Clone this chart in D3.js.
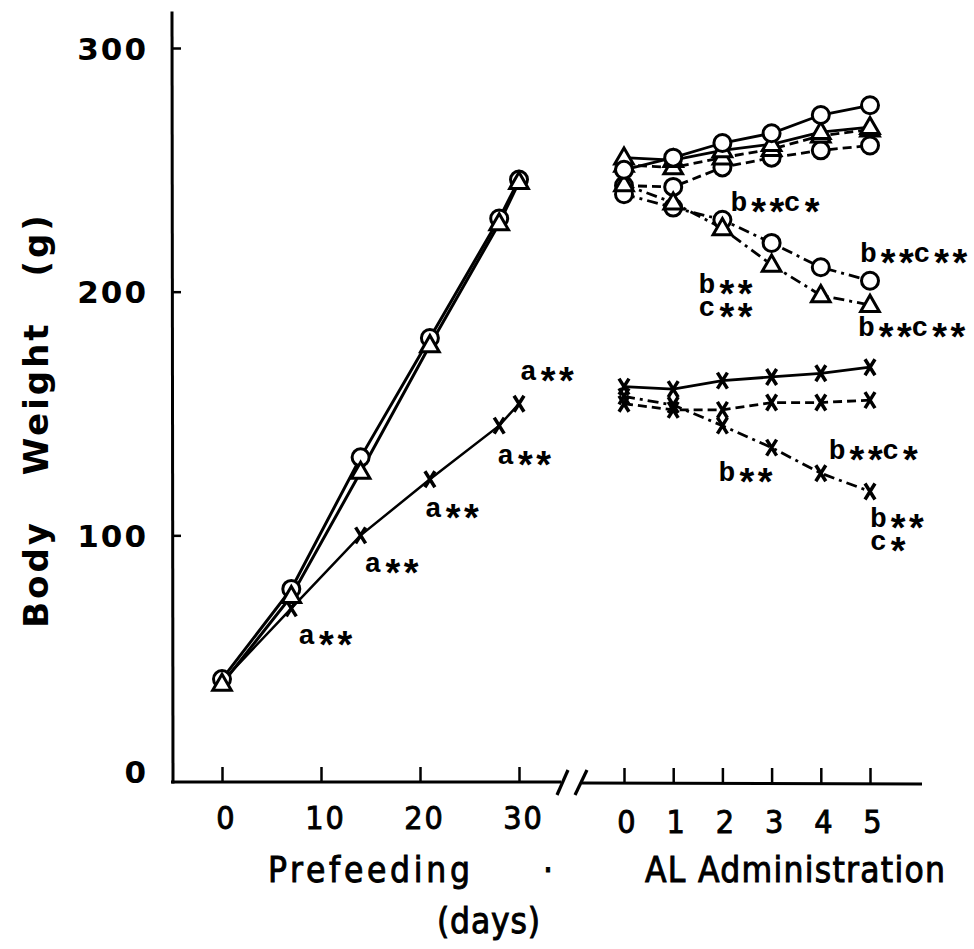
<!DOCTYPE html>
<html>
<head>
<meta charset="utf-8">
<script src="https://cdn.jsdelivr.net/npm/d3@7/dist/d3.min.js"></script>
<style>
  html, body { margin: 0; padding: 0; background: #fff; }
  svg { display: block; }
  .ytick text { font-family: "DejaVu Sans", sans-serif; font-weight: bold; font-size: 31px; letter-spacing: 2px; }
  .xtick text { font-family: "DejaVu Sans Condensed", "DejaVu Sans", sans-serif; font-stretch: condensed; font-size: 32px; letter-spacing: 2px; stroke: #000; stroke-width: 0.9px; }
  .xlabel { font-family: "DejaVu Sans Condensed", "DejaVu Sans", sans-serif; font-stretch: condensed; font-size: 35px; stroke: #000; stroke-width: 0.9px; }
  .ylabel { font-family: "DejaVu Sans", sans-serif; font-weight: bold; font-size: 34px; letter-spacing: 3px; word-spacing: 30px; }
  .ann { font-family: "Liberation Mono", "DejaVu Sans Mono", monospace; font-weight: bold; font-size: 28px; }
</style>
</head>
<body>
<svg id="chart" width="974" height="949"></svg>
<script>
// Prefeeding period (days 0-30), body weight in g
const prefeedDays = [0, 7, 14, 21, 28, 30];
const prefeedCircle = [41, 78, 132, 181, 230, 246];
const prefeedTriangle = [39, 75, 126, 178, 228, 245];
const prefeedCross = [40, 70, 100, 123, 145, 154];

// AL administration period (days 0-5)
const alDays = [0, 1, 2, 3, 4, 5];
const circleSolid = [250, 255, 261, 265, 272.5, 276.5];
const circleDashed = [243.5, 243, 251, 255, 258, 260];
const circleDashDot = [240, 234.5, 229.5, 220, 210, 204.5];
const triangleSolid = [255, 254, 258, 260.5, 265.5, 267.5];
const triangleDashed = [252, 251, 255, 258.5, 264, 266.5];
const triangleDashDot = [244, 236.5, 226, 211, 198.5, 194.5];
const crossSolid = [161, 160, 163.5, 165, 166.5, 169];
const crossDashed = [154, 151.5, 151.5, 154.5, 154.5, 155.5];
const crossDashDot = [157, 153.5, 145, 136, 125.5, 118];

// Tick labels
const yTicks = [0, 100, 200, 300];
const prefeedTicks = [0, 10, 20, 30];
const alTicks = [0, 1, 2, 3, 4, 5];

// Significance notes
const prefeedNoteText = ["a**", "a**", "a**", "a**", "a**"];
const prefeedNoteDay = [7, 14, 21, 28, 30];
const alNoteText = ["b**c*", "b**c**", "b**\nc**", "b**c**", "b**c*", "b**", "b**\nc*"];
const alNoteSeries = ["circleDashDot", "circleDashDot", "triangleDashDot", "triangleDashDot", "crossDashDot", "crossDashDot", "crossDashDot"];
const alNoteDay = [2, 5, 3, 5, 4, 3, 5];

const svg = d3.select("#chart");

const y = d3.scaleLinear().domain([0, 300]).range([779, 48]);
const xL = d3.scaleLinear().domain([0, 30]).range([222, 519]);
const xR = d3.scaleLinear().domain([0, 5]).range([624, 870]);

const AXIS_Y = 782;

// ---- axes ----
const yAxis = svg.append("g").attr("class", "ytick").attr("transform", "translate(172,0)")
  .call(d3.axisLeft(y).tickValues(yTicks).tickSize(-9).tickPadding(24).tickFormat(d3.format("d")));
yAxis.select(".domain").remove();
yAxis.selectAll("line").attr("stroke", "#000").attr("stroke-width", 2.5);
yAxis.selectAll("text").attr("fill", "#000").attr("dy", "0.36em");
yAxis.selectAll(".tick").filter(d => d === 0).select("line").remove();
yAxis.selectAll(".tick").filter(d => d === 0).select("text").attr("dy", "0.1em");
svg.append("line").attr("x1", 172).attr("x2", 173).attr("y1", y(315)).attr("y2", AXIS_Y + 1.5)
  .attr("stroke", "#000").attr("stroke-width", 3);

const xAxisL = svg.append("g").attr("class", "xtick").attr("transform", `translate(0,${AXIS_Y})`)
  .call(d3.axisBottom(xL).tickValues(prefeedTicks).tickSize(-15).tickPadding(24).tickFormat(d3.format("d")));
xAxisL.select(".domain").remove();
xAxisL.selectAll("line").attr("stroke", "#000").attr("stroke-width", 2.5);
xAxisL.selectAll("text").attr("fill", "#000").attr("dx", 4);

const xAxisR = svg.append("g").attr("class", "xtick").attr("transform", `translate(0,${AXIS_Y + 1})`)
  .call(d3.axisBottom(xR).tickValues(alTicks).tickSize(-15).tickPadding(27).tickFormat(d3.format("d")));
xAxisR.select(".domain").remove();
xAxisR.selectAll("line").attr("stroke", "#000").attr("stroke-width", 2.5);
xAxisR.selectAll("text").attr("fill", "#000").attr("dx", 3);

// axis baseline with the break marks
svg.append("line").attr("x1", 171).attr("x2", 561).attr("y1", AXIS_Y).attr("y2", AXIS_Y)
  .attr("stroke", "#000").attr("stroke-width", 3);
svg.append("line").attr("x1", 582).attr("x2", 922).attr("y1", AXIS_Y + 1).attr("y2", AXIS_Y + 2)
  .attr("stroke", "#000").attr("stroke-width", 3);
[[557, 568], [575, 587]].forEach(([a, b]) => {
  svg.append("line").attr("x1", a).attr("y1", AXIS_Y + 13).attr("x2", b).attr("y2", AXIS_Y - 12)
    .attr("stroke", "#000").attr("stroke-width", 3.2);
});

// ---- axis titles ----
svg.append("text").attr("class", "xlabel").attr("x", 268).attr("y", 882)
  .attr("textLength", 202).attr("lengthAdjust", "spacing").text("Prefeeding");
svg.append("text").attr("class", "xlabel").attr("x", 548).attr("y", 882)
  .attr("text-anchor", "middle").text("·");
svg.append("text").attr("class", "xlabel").attr("x", 645).attr("y", 882)
  .attr("textLength", 300).attr("lengthAdjust", "spacing").text("AL Administration");
svg.append("text").attr("class", "xlabel").attr("x", 437).attr("y", 933)
  .attr("textLength", 103).attr("lengthAdjust", "spacing").text("(days)");

svg.append("text").attr("class", "ylabel")
  .attr("transform", "translate(48,420) rotate(-90)")
  .attr("text-anchor", "middle").text("Body Weight (g)");

// ---- marks ----
const dashStyles = { solid: null, dashed: "9,5", dashdot: "11,5,3,5" };

function drawLine(xs, xScale, ys, style, width) {
  const pts = xs.map((d, i) => [xScale(d), y(ys[i])]);
  svg.append("path").attr("d", d3.line()(pts))
    .attr("fill", "none").attr("stroke", "#000").attr("stroke-width", width)
    .attr("stroke-dasharray", dashStyles[style]);
  return pts;
}

function drawMarkers(pts, shape) {
  const g = svg.append("g");
  pts.forEach(([px, py]) => {
    if (shape === "circle") {
      g.append("circle").attr("cx", px).attr("cy", py).attr("r", 8.5)
        .attr("fill", "#fff").attr("stroke", "#000").attr("stroke-width", 3);
    } else if (shape === "triangle") {
      g.append("path").attr("d", d3.symbol().type(d3.symbolTriangle).size(150)())
        .attr("transform", `translate(${px},${py + 1})`)
        .attr("fill", "#fff").attr("stroke", "#000").attr("stroke-width", 3);
    } else {
      g.append("path").attr("d", "M-5,-8L5,8M5,-8L-5,8")
        .attr("transform", `translate(${px},${py})`)
        .attr("fill", "none").attr("stroke", "#000").attr("stroke-width", 3.5);
    }
  });
}

// Prefeeding
const pfCross = drawLine(prefeedDays, xL, prefeedCross, "solid", 2.5);
const pfTri = drawLine(prefeedDays, xL, prefeedTriangle, "solid", 3);
const pfCirc = drawLine(prefeedDays, xL, prefeedCircle, "solid", 3);
drawMarkers(pfCross.slice(1), "cross");
drawMarkers(pfCirc, "circle");
drawMarkers(pfTri, "triangle");

// AL administration
const alSeries = {
  crossSolid:     [crossSolid, "solid", "cross"],
  crossDashed:    [crossDashed, "dashed", "cross"],
  crossDashDot:   [crossDashDot, "dashdot", "cross"],
  circleDashed:   [circleDashed, "dashed", "circle"],
  triangleDashed: [triangleDashed, "dashed", "triangle"],
  triangleSolid:  [triangleSolid, "solid", "triangle"],
  circleDashDot:  [circleDashDot, "dashdot", "circle"],
  triangleDashDot:[triangleDashDot, "dashdot", "triangle"],
  circleSolid:    [circleSolid, "solid", "circle"]
};
const alPts = {};
Object.entries(alSeries).forEach(([k, [vals, style]]) => {
  alPts[k] = drawLine(alDays, xR, vals, style, 2.8);
});
Object.entries(alSeries).forEach(([k, [vals, style, shape]]) => {
  drawMarkers(alPts[k], shape);
});

// ---- significance notes ----
// Asterisks are set larger and lowered so they sit on the x-height band.
const STAR_SHIFT = 15;
const LINE_GAP = 23;
function note(x, yy, str) {
  const t = svg.append("text").attr("class", "ann").attr("x", x).attr("y", yy);
  let cur = 0;
  str.split("\n").forEach((line, li) => {
    line.match(/\*+|[^*]+/g).forEach((p, pi) => {
      const ts = t.append("tspan").text(p);
      const target = p[0] === "*" ? STAR_SHIFT : 0;
      let dy = target - cur;
      if (pi === 0 && li > 0) { ts.attr("x", x); dy += LINE_GAP; }
      cur = target;
      if (p[0] === "*") ts.attr("font-size", 38).attr("letter-spacing", -4.5);
      if (dy) ts.attr("dy", dy);
    });
  });
}

const prefeedNoteOffset = [[7, 36], [4, 37], [-5, 38], [-2, 38], [1, -24]];
prefeedNoteText.forEach((txt, i) => {
  const idx = prefeedDays.indexOf(prefeedNoteDay[i]);
  const [dx, dy] = prefeedNoteOffset[i];
  note(xL(prefeedNoteDay[i]) + dx, y(prefeedCross[idx]) + dy, txt);
});

const alNoteOffset = [[8, -9], [-10, -19], [-73, 28], [-12, 31], [8, -14], [-53, 33], [0, 36]];
alNoteText.forEach((txt, i) => {
  const vals = alSeries[alNoteSeries[i]][0];
  const d = alNoteDay[i];
  const [dx, dy] = alNoteOffset[i];
  note(xR(d) + dx, y(vals[d]) + dy, txt);
});
</script>
</body>
</html>
